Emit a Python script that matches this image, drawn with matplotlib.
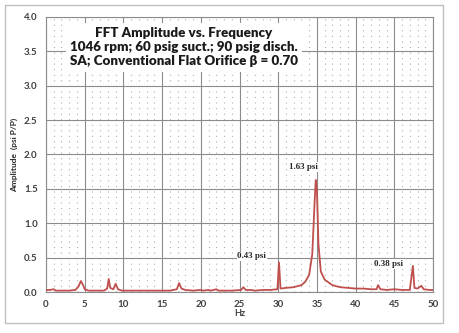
import matplotlib.pyplot as plt
from matplotlib.patches import Rectangle

# Espectro FFT (Hz, psi pico a pico)
hz = [0.0, 0.5, 1.0, 1.3, 2.0, 3.0, 3.8, 4.2, 4.5, 4.8, 5.0, 5.5, 6.5, 7.5,
      7.9, 8.1, 8.3, 8.7, 9.0, 9.3, 9.8, 11.0, 12.0, 13.0, 14.0, 15.0, 16.0,
      16.9, 17.2, 17.5, 18.0, 19.0, 20.0, 20.3, 21.0, 21.3, 22.0, 22.3, 23.0,
      24.0, 25.2, 25.5, 25.8, 26.5, 27.0, 28.0, 29.0, 29.9, 30.1, 30.3, 31.0,
      32.0, 33.0, 33.5, 34.0, 34.4, 34.7, 34.85, 35.0, 35.2, 35.5, 36.0, 37.0,
      38.0, 39.0, 40.0, 41.0, 42.0, 42.7, 42.9, 43.2, 44.0, 45.0, 46.0, 47.0,
      47.4, 47.6, 48.0, 48.5, 48.8, 49.5, 50.0]
amp = [0.03, 0.03, 0.04, 0.02, 0.02, 0.02, 0.03, 0.08, 0.16, 0.10, 0.04, 0.02,
       0.02, 0.02, 0.05, 0.19, 0.06, 0.04, 0.12, 0.04, 0.02, 0.02, 0.02, 0.02,
       0.02, 0.02, 0.02, 0.04, 0.13, 0.05, 0.03, 0.02, 0.03, 0.02, 0.03, 0.02,
       0.04, 0.02, 0.02, 0.02, 0.03, 0.07, 0.03, 0.03, 0.02, 0.03, 0.03, 0.04,
       0.43, 0.05, 0.06, 0.07, 0.10, 0.15, 0.25, 0.55, 1.30, 1.63, 1.50, 0.70,
       0.30, 0.18, 0.10, 0.07, 0.06, 0.05, 0.05, 0.04, 0.04, 0.10, 0.04, 0.03,
       0.04, 0.03, 0.03, 0.38, 0.06, 0.05, 0.09, 0.04, 0.03, 0.03]

# Picos etiquetados
etiquetas = ['0.43 psi', '1.63 psi', '0.38 psi']
pos_etiquetas = [(26.6, 0.52), (33.2, 1.82), (44.3, 0.41)]

titulo = ['FFT Amplitude vs. Frequency',
          '1046 rpm; 60 psig suct.; 90 psig disch.',
          'SA; Conventional Flat Orifice \u03b2 = 0.70']

fig = plt.figure(figsize=(4.59, 3.33), dpi=100)
ax = fig.add_axes([0.1002, 0.1231, 0.8432, 0.8259])

# Marco exterior
fig.patches.append(Rectangle((5 / 459, 1 - 323 / 333), 438 / 459, 318 / 333,
                             transform=fig.transFigure, fill=False,
                             edgecolor='#bfbfbf', linewidth=1.0))

ax.plot(hz, amp, color='#c0504d', linewidth=1.3, zorder=3)

ax.set_xlim(0, 50)
ax.set_ylim(0, 4)
ax.set_xticks(range(0, 51, 5))
ax.set_yticks([i * 0.5 for i in range(9)])
ax.set_yticklabels([f'{i * 0.5:.1f}' for i in range(9)])
ax.set_xticks(range(0, 51), minor=True)
ax.tick_params(which='both', length=0, labelsize=7, labelcolor='#404040', pad=6)
for lab in ax.get_xticklabels() + ax.get_yticklabels():
    lab.set_fontfamily('Lato')
    lab.set_fontweight('bold')

ax.grid(which='major', color='#8c8c8c', linewidth=0.8)
ax.grid(which='minor', axis='x', color='#b0b0b0', linewidth=0.8,
        linestyle=(0, (1, 4)))
ax.set_axisbelow(True)
for s in ax.spines.values():
    s.set_color('#8c8c8c')
    s.set_linewidth(0.8)

ax.set_xlabel('Hz', fontsize=6.5, fontweight='bold', family='Lato',
              color='#404040', labelpad=0)
ax.set_ylabel('Amplitude  (psi P/P)', fontsize=6, fontweight='bold',
              family='Lato', color='#262626', labelpad=4)

ax.text(17.8, 3.56, '\n'.join(titulo), ha='center', va='center',
        fontsize=9.6, fontweight='heavy', family='Lato', color='#1a1a1a',
        linespacing=1.22, zorder=4,
        bbox=dict(facecolor='white', edgecolor='none', pad=3))

for txt, (x, y) in zip(etiquetas, pos_etiquetas):
    ax.text(x, y, txt, ha='center', va='center', fontsize=6.5,
            fontweight='bold', family='Liberation Serif', color='#262626',
            zorder=4, bbox=dict(facecolor='white', edgecolor='none', pad=0.5))

fig.savefig('out.png', dpi=100)
